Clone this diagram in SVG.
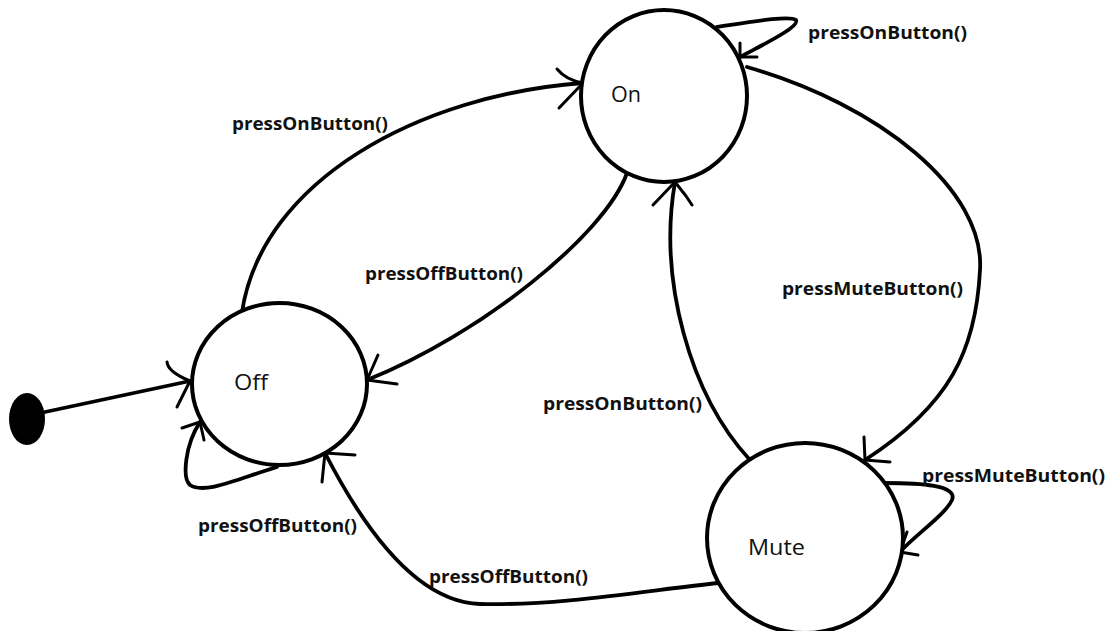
<svg xmlns="http://www.w3.org/2000/svg" width="1115" height="631" viewBox="0 0 1115 631">
<style>
.state{fill:#fff;stroke:#000;stroke-width:4}
.edge{fill:none;stroke:#000;stroke-width:3.8;stroke-linecap:round;stroke-linejoin:round}
.head{fill:none;stroke:#000;stroke-width:3;stroke-linecap:round;stroke-linejoin:round}
.lbl{font-family:"Open Sans","Liberation Sans",sans-serif;font-weight:bold;font-size:18.5px;fill:#111}
.name{font-family:"Open Sans","Liberation Sans",sans-serif;font-size:21px;fill:#111}
</style>
<rect width="1115" height="631" fill="#fff"/>
<g id="connectors">
  <path class="edge" d="M45,412 L190,381"/>
  <path class="head" d="M167,362 Q168,372 190,381 L177,407"/>
  <path class="edge" d="M242,312 C262,180 420,95 583,83"/>
  <path class="head" d="M557,69 Q566,80 583,83 L559,108"/>
  <path class="edge" d="M627,173 C605,235 480,335 367,380"/>
  <path class="head" d="M378,355 L367,380 L397,384"/>
  <path class="edge" d="M747,67 C880,105 985,190 980,270 C976,350 950,405 865,460"/>
  <path class="head" d="M864,437 L865,460 L890,462"/>
  <path class="edge" d="M750,460 C690,395 658,280 675,182"/>
  <path class="head" d="M653,205 L675,182 L686,196 L692,205"/>
  <path class="edge" d="M718,583 C650,590 560,606 480,604 C415,602 362,525 325,453"/>
  <path class="head" d="M355,455 L325,453 L322,482"/>
  <path class="edge" d="M277,467 C240,478 205,495 190,485 C182,478 185,445 200,422"/>
  <path class="head" d="M182,428 L200,422 L204,440"/>
  <path class="edge" d="M717,27 C750,22 790,15 796,20 C800,27 762,45 740,57"/>
  <path class="head" d="M740,43 L740,57 L757,57"/>
  <path class="edge" d="M885,483 C920,483 958,485 952,500 C945,515 915,535 900,552"/>
  <path class="head" d="M907,532 L900,552 L918,555"/>
</g>
<g id="initial">
  <ellipse cx="27" cy="419" rx="18" ry="26" fill="#000"/>
</g>
<g id="state-on">
  <ellipse class="state" cx="664" cy="96" rx="83" ry="86"/>
  <text class="name" x="611" y="102" textLength="30" lengthAdjust="spacingAndGlyphs">On</text>
</g>
<g id="state-off">
  <ellipse class="state" cx="279.5" cy="384" rx="87.5" ry="81"/>
  <text class="name" x="234" y="390" textLength="34" lengthAdjust="spacingAndGlyphs">Off</text>
</g>
<g id="state-mute">
  <ellipse class="state" cx="805" cy="538" rx="98" ry="95"/>
  <text class="name" x="748" y="555" textLength="57" lengthAdjust="spacingAndGlyphs">Mute</text>
</g>
<g id="labels">
  <text class="lbl" x="808" y="39" textLength="159" lengthAdjust="spacingAndGlyphs">pressOnButton()</text>
  <text class="lbl" x="232" y="130" textLength="156" lengthAdjust="spacingAndGlyphs">pressOnButton()</text>
  <text class="lbl" x="365" y="280" textLength="158" lengthAdjust="spacingAndGlyphs">pressOffButton()</text>
  <text class="lbl" x="782" y="295" textLength="181" lengthAdjust="spacingAndGlyphs">pressMuteButton()</text>
  <text class="lbl" x="543" y="410" textLength="159" lengthAdjust="spacingAndGlyphs">pressOnButton()</text>
  <text class="lbl" x="922" y="482" textLength="183" lengthAdjust="spacingAndGlyphs">pressMuteButton()</text>
  <text class="lbl" x="198" y="532" textLength="159" lengthAdjust="spacingAndGlyphs">pressOffButton()</text>
  <text class="lbl" x="429" y="583" textLength="159" lengthAdjust="spacingAndGlyphs">pressOffButton()</text>
</g>
</svg>
